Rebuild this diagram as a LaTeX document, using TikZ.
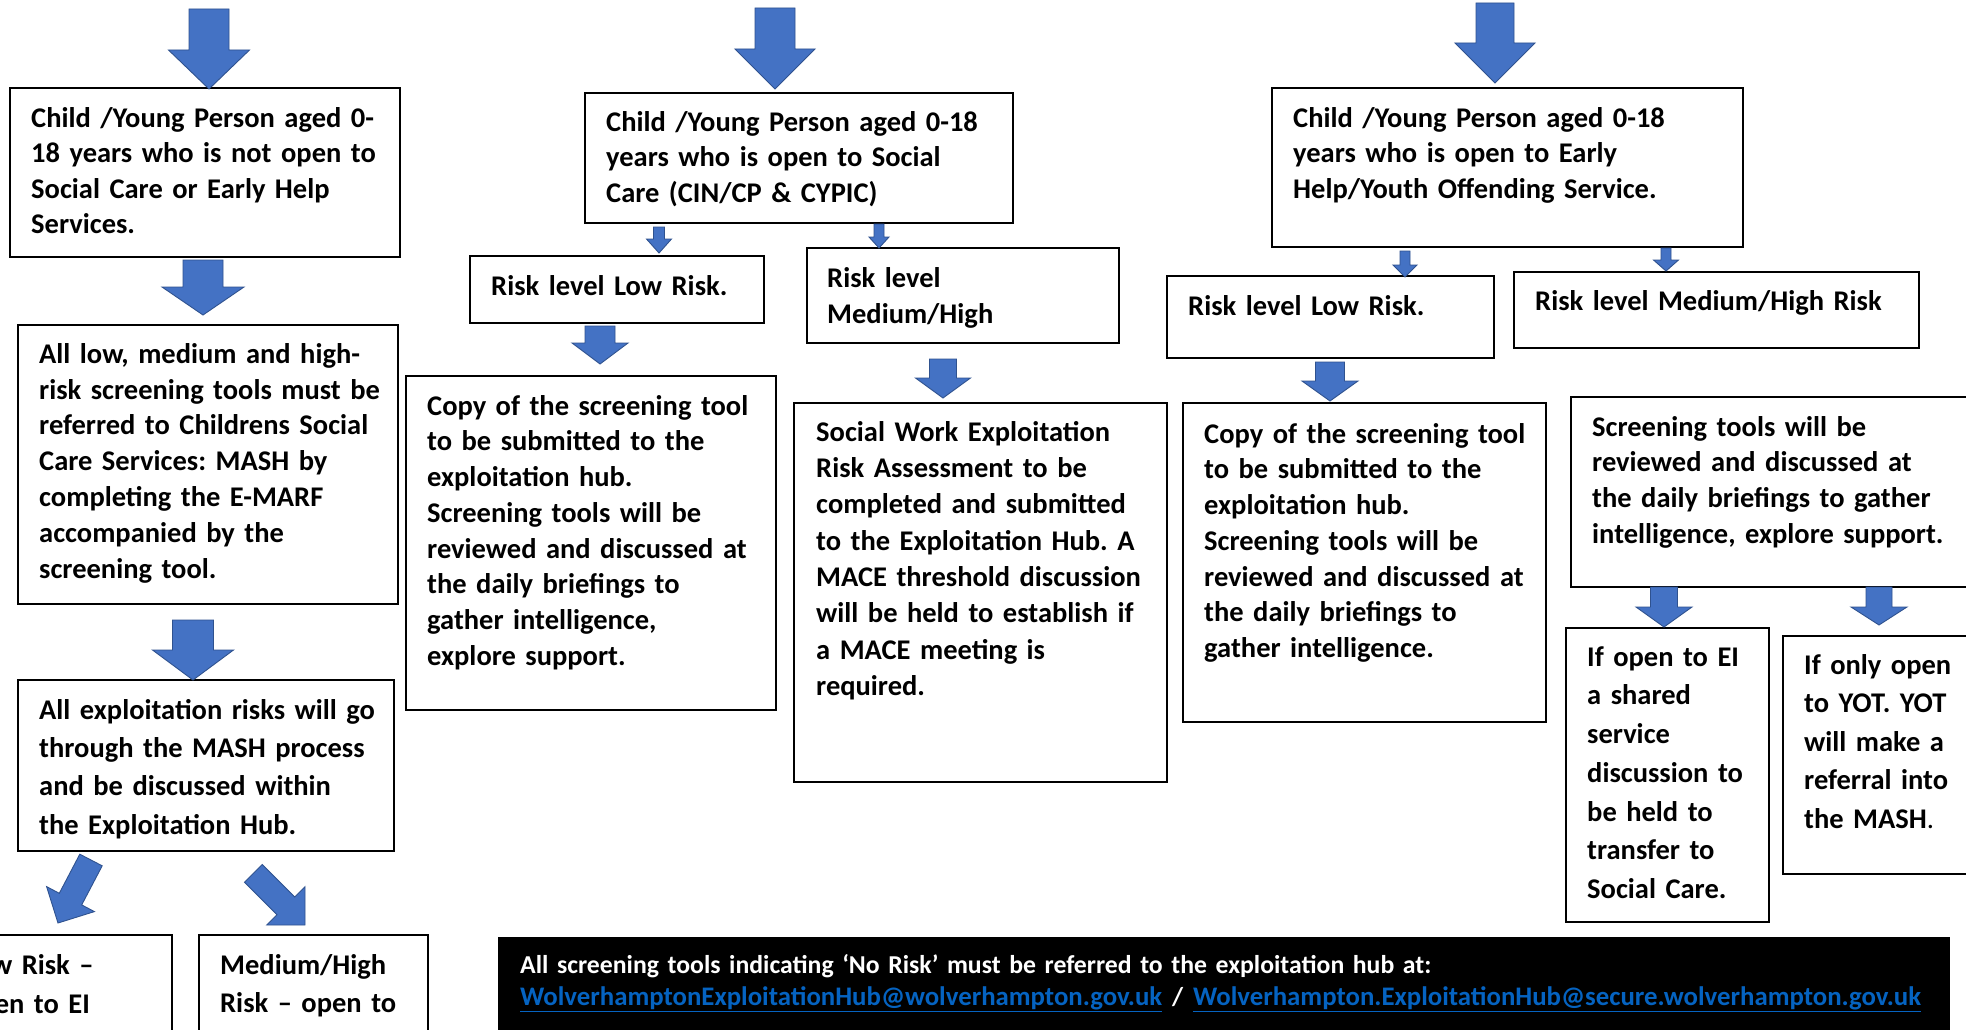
\documentclass[tikz,border=0pt]{standalone}
\usepackage{fontspec}
\setmainfont{Carlito}
\frenchspacing
\definecolor{arrowfill}{HTML}{4472C4}
\definecolor{arrowline}{HTML}{2F528F}
\definecolor{linkblue}{HTML}{0563C1}
\tikzset{
  boxline/.style={draw=black, line width=1.3pt, fill=white},
  blockarrow/.style={fill=arrowfill, draw=arrowline, line width=0.9pt, line join=miter},
  txt/.style={anchor=north west, inner sep=0pt, align=left, text width=#1},
}
% cx, top, shaft half width, head y, head half width, tip y
\newcommand{\varrow}[6]{%
  \draw[blockarrow] ({#1-#3},#2) -- ({#1+#3},#2) -- ({#1+#3},#4) -- ({#1+#5},#4)
    -- (#1,#6) -- ({#1-#5},#4) -- ({#1-#3},#4) -- cycle;}
% name, x, first baseline, baselineskip, text
\newcommand{\btext}[5]{%
  \node[txt=700pt, font=\fontsize{28.5}{#4}\selectfont\bfseries\frenchspacing] (#1) at (#2,{#3-0.7*#4}) {\strut #5};}
\newcommand{\maillink}[1]{{\color{linkblue}\fontsize{26.8}{32}\selectfont\bfseries\underline{#1}}}
\begin{document}
\begin{tikzpicture}[x=1pt,y=-1pt]
\useasboundingbox (0,0) rectangle (1966,1030);
\clip (0,0) rectangle (1966,1030);
\fill[white] (0,0) rectangle (1966,1030);
% boxes
\draw[boxline] (10,88) rectangle (400,257);
\draw[boxline] (18,325) rectangle (398,604);
\draw[boxline] (18,680) rectangle (394,851);
\draw[boxline] (-5,935) rectangle (172,1040);
\draw[boxline] (199,935) rectangle (428,1040);
\draw[boxline] (585,93) rectangle (1013,223);
\draw[boxline] (470,256) rectangle (764,323);
\draw[boxline] (807,248) rectangle (1119,343);
\draw[boxline] (406,376) rectangle (776,710);
\draw[boxline] (794,403) rectangle (1167,782);
\draw[boxline] (1272,88) rectangle (1743,247);
\draw[boxline] (1167,276) rectangle (1494,358);
\draw[boxline] (1514,272) rectangle (1919,348);
\draw[boxline] (1183,403) rectangle (1546,722);
\draw[boxline] (1571,397) rectangle (1980,587);
\draw[boxline] (1566,628) rectangle (1769,922);
\draw[boxline] (1783,636) rectangle (1980,874);
\fill[black] (498,937) rectangle (1950,1040);
% block arrows
\varrow{209}{9}{20}{50}{40.5}{89}
\varrow{203}{260}{20}{287}{41}{315}
\varrow{193}{620}{20.5}{650}{40.5}{680}
\varrow{775}{8}{20}{49}{40}{89}
\varrow{659}{227}{5.5}{239}{12.5}{253}
\varrow{879}{224}{5}{237}{10}{248}
\varrow{600}{326}{15}{343}{28}{364}
\varrow{943}{359}{13.5}{378}{27.5}{398}
\varrow{1495}{3}{19}{43}{40}{83}
\varrow{1405}{251}{5}{265}{12}{277}
\varrow{1666}{248}{5}{260}{12.5}{271}
\varrow{1330}{362}{14.5}{381}{28}{401}
\varrow{1664}{587}{13.5}{607}{28}{627}
\varrow{1879}{587}{13}{607}{28}{625}
\draw[blockarrow] (102.2,865.8) -- (81.7,904.9) -- (94.4,911.6) -- (58,923) -- (46.6,886.6) -- (59.3,893.3) -- (79.8,854.2) -- cycle;
\draw[blockarrow] (262.3,864.5) -- (294.8,897.0) -- (305,886.8) -- (305,925) -- (266.8,925) -- (277,914.8) -- (244.5,882.3) -- cycle;
% texts
\btext{t1}{31}{127}{35.5}{Child /Young Person aged 0-\\18 years who is not open to\\Social Care or Early Help\\Services.}
\btext{t2}{39}{363}{35.8}{All low, medium and high-\\risk screening tools must be\\referred to Childrens Social\\Care Services: MASH by\\completing the E-MARF\\accompanied by the\\screening tool.}
\btext{t3}{39}{719}{38.3}{All exploitation risks will go\\through the MASH process\\and be discussed within\\the Exploitation Hub.}
\btext{t4}{-36}{974}{39}{Low Risk –\\open to EI}
\btext{t5}{220}{974}{38.5}{Medium/High\\Risk – open to}
\btext{m1}{606}{131}{35.7}{Child /Young Person aged 0-18\\years who is open to Social\\Care (CIN/CP \& CYPIC)}
\btext{m2}{491}{295}{36}{Risk level Low Risk.}
\btext{m3}{827}{287}{36}{Risk level\\Medium/High}
\btext{m4}{427}{415}{35.7}{Copy of the screening tool\\to be submitted to the\\exploitation hub.\\Screening tools will be\\reviewed and discussed at\\the daily briefings to\\gather intelligence,\\explore support.}
\btext{m5}{816}{441}{36.3}{Social Work Exploitation\\Risk Assessment to be\\completed and submitted\\to the Exploitation Hub. A\\MACE threshold discussion\\will be held to establish if\\a MACE meeting is\\required.}
\btext{r1}{1293}{127}{35.5}{Child /Young Person aged 0-18\\years who is open to Early\\Help/Youth Offending Service.}
\btext{r2}{1188}{315}{36}{Risk level Low Risk.}
\btext{r3}{1535}{310}{36}{Risk level Medium/High Risk}
\btext{r4}{1204}{443}{35.7}{Copy of the screening tool\\to be submitted to the\\exploitation hub.\\Screening tools will be\\reviewed and discussed at\\the daily briefings to\\gather intelligence.}
\btext{r5}{1592}{436}{35.7}{Screening tools will be\\reviewed and discussed at\\the daily briefings to gather\\intelligence, explore support.}
\btext{r6}{1587}{666}{38.7}{If open to EI\\a shared\\service\\discussion to\\be held to\\transfer to\\Social Care.}
\btext{r7}{1804}{674}{38.5}{If only open\\to YOT. YOT\\will make a\\referral into\\the MASH{\mdseries .}}
\node[txt=1500pt, text=white, font=\fontsize{25.75}{32}\selectfont\bfseries\frenchspacing] (note) at (520,{973-0.7*32})
  {\strut All screening tools indicating ‘No Risk’ must be referred to the exploitation hub at:\\
   \maillink{WolverhamptonExploitationHub@wolverhampton.gov.uk}\hspace{10pt}/\hspace{10pt}\maillink{Wolverhampton.ExploitationHub@secure.wolverhampton.gov.uk}};
\end{tikzpicture}
\end{document}
